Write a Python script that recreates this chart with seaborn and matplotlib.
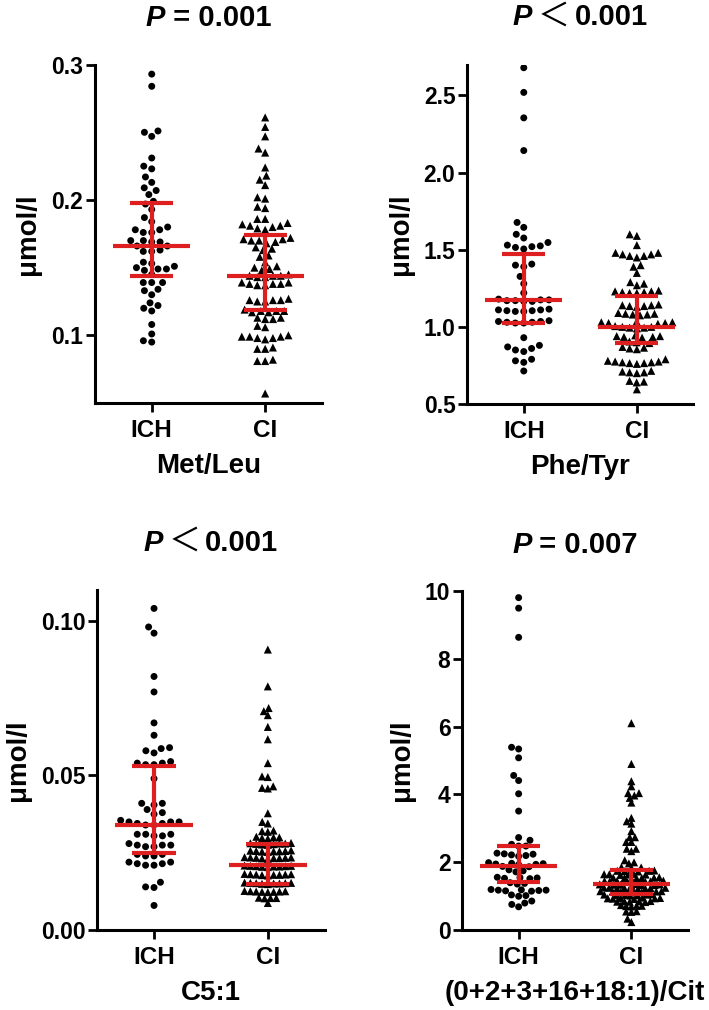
import matplotlib
matplotlib.use("Agg")
import matplotlib.pyplot as plt
from matplotlib.transforms import Affine2D
import seaborn as sns
import pandas as pd
from matplotlib.offsetbox import TextArea, HPacker, AnchoredOffsetbox

groups = ["ICH", "CI"]

# ---------------- data ----------------
metleu_ich = [0.293, 0.284, 0.251, 0.250, 0.247, 0.231, 0.225, 0.223, 0.217, 0.213,
              0.209, 0.207, 0.204, 0.199, 0.197, 0.193, 0.187, 0.184, 0.180, 0.178,
              0.178, 0.176, 0.176, 0.170, 0.170, 0.169, 0.169, 0.166, 0.166, 0.163,
              0.162, 0.162, 0.154, 0.153, 0.151, 0.150, 0.149, 0.149, 0.148, 0.145,
              0.139, 0.139, 0.139, 0.134, 0.133, 0.130, 0.124, 0.122, 0.120, 0.118,
              0.108, 0.101, 0.096, 0.095]
metleu_ci = [0.261, 0.254, 0.247, 0.238, 0.235, 0.224, 0.218, 0.215, 0.211, 0.202,
             0.201, 0.195, 0.194, 0.186, 0.186, 0.183, 0.182, 0.181, 0.181, 0.180,
             0.179, 0.178, 0.172, 0.171, 0.171, 0.170, 0.170, 0.169, 0.168, 0.165,
             0.164, 0.163, 0.159, 0.158, 0.154, 0.151, 0.150, 0.149, 0.148, 0.145,
             0.144, 0.144, 0.144, 0.143, 0.143, 0.139, 0.139, 0.138, 0.138, 0.138,
             0.137, 0.137, 0.127, 0.126, 0.126, 0.126, 0.125, 0.125, 0.119, 0.118,
             0.118, 0.118, 0.117, 0.117, 0.113, 0.113, 0.112, 0.112, 0.107, 0.106,
             0.100, 0.099, 0.099, 0.099, 0.098, 0.098, 0.097, 0.091, 0.090, 0.090,
             0.082, 0.081, 0.081, 0.057]

phetyr_ich = [2.68, 2.52, 2.355, 2.143, 1.677, 1.645, 1.600, 1.576, 1.547, 1.530,
              1.525, 1.520, 1.515, 1.505, 1.407, 1.400, 1.390, 1.327, 1.280, 1.220,
              1.180, 1.175, 1.175, 1.170, 1.170, 1.165, 1.165, 1.115, 1.110, 1.110,
              1.105, 1.105, 1.100, 1.100, 1.040, 1.035, 1.035, 1.030, 1.030, 1.025,
              1.025, 0.930, 0.880, 0.870, 0.860, 0.850, 0.840, 0.790, 0.780, 0.770,
              0.714]
phetyr_ci = [1.600, 1.590, 1.530, 1.480, 1.480, 1.470, 1.470, 1.460, 1.460, 1.450,
             1.400, 1.390, 1.350, 1.290, 1.280, 1.270, 1.235, 1.230, 1.230, 1.225,
             1.225, 1.220, 1.220, 1.145, 1.140, 1.140, 1.135, 1.135, 1.130, 1.090,
             1.085, 1.085, 1.080, 1.080, 1.075, 1.035, 1.030, 1.030, 1.025, 1.025,
             1.020, 1.005, 1.000, 1.000, 0.995, 0.995, 0.990, 0.945, 0.940, 0.940,
             0.935, 0.935, 0.930, 0.905, 0.900, 0.895, 0.870, 0.865, 0.860, 0.855,
             0.790, 0.780, 0.775, 0.775, 0.770, 0.770, 0.765, 0.765, 0.760, 0.715,
             0.710, 0.705, 0.705, 0.700, 0.650, 0.645, 0.640, 0.595]

c51_ich = [0.104, 0.098, 0.096, 0.082, 0.077, 0.067, 0.063, 0.059, 0.0587, 0.058,
           0.0573, 0.0545, 0.054, 0.054, 0.0535, 0.0535, 0.049, 0.041, 0.041, 0.0405,
           0.039, 0.038, 0.0375, 0.0355, 0.035, 0.035, 0.035, 0.0345, 0.0345, 0.034,
           0.034, 0.031, 0.031, 0.031, 0.0305, 0.0305, 0.028, 0.0275, 0.0275, 0.0275,
           0.027, 0.027, 0.0245, 0.0245, 0.024, 0.024, 0.022, 0.022, 0.0215, 0.0215,
           0.021, 0.021, 0.0155, 0.014, 0.0138, 0.008]
c51_ci = [0.0907, 0.0788, 0.0718, 0.0708, 0.0695, 0.0657, 0.0617, 0.054, 0.0497, 0.0495,
          0.0465, 0.046, 0.0458, 0.0378, 0.035, 0.0345, 0.0322, 0.032, 0.0318, 0.0302,
          0.030, 0.030, 0.0298, 0.0296, 0.0282, 0.0281, 0.028, 0.028, 0.0279, 0.0278,
          0.0277, 0.0276, 0.0258, 0.0257, 0.0256, 0.0256, 0.0255, 0.0255, 0.0254, 0.0253,
          0.0236, 0.0235, 0.0235, 0.0234, 0.0234, 0.0233, 0.0233, 0.0232, 0.0231, 0.0209,
          0.0208, 0.0208, 0.0207, 0.0207, 0.0206, 0.0206, 0.0205, 0.0204, 0.0182, 0.0181,
          0.0181, 0.018, 0.018, 0.0179, 0.0179, 0.0178, 0.0177, 0.0154, 0.0153, 0.0153,
          0.0152, 0.0152, 0.0151, 0.0151, 0.015, 0.0149, 0.0127, 0.0126, 0.0126, 0.0125,
          0.0125, 0.0124, 0.0124, 0.0123, 0.0105, 0.0104, 0.0104, 0.0103, 0.0088]

ratio_ich = [9.80, 9.49, 8.63, 5.39, 5.34, 5.08, 4.56, 4.41, 4.02, 3.51,
             2.73, 2.65, 2.53, 2.48, 2.48, 2.27, 2.25, 2.24, 2.22, 2.20,
             2.18, 1.99, 1.97, 1.96, 1.95, 1.94, 1.93, 1.88, 1.87, 1.78,
             1.75, 1.72, 1.56, 1.55, 1.54, 1.53, 1.52, 1.40, 1.38, 1.36,
             1.20, 1.19, 1.18, 1.18, 1.17, 1.16, 1.15, 1.04, 1.02, 1.00,
             0.86, 0.80, 0.76, 0.69]
ratio_ci = [6.10, 4.90, 4.39, 4.24, 4.04, 4.04, 3.97, 3.90, 3.76, 3.31,
            3.21, 3.14, 2.92, 2.74, 2.74, 2.60, 2.60, 2.40, 2.40, 2.33,
            2.06, 2.00, 1.97, 1.86, 1.85, 1.84, 1.76, 1.75, 1.75, 1.74,
            1.73, 1.66, 1.65, 1.65, 1.64, 1.64, 1.63, 1.56, 1.55, 1.55,
            1.54, 1.54, 1.53, 1.52, 1.46, 1.45, 1.45, 1.44, 1.44, 1.43,
            1.42, 1.36, 1.35, 1.35, 1.34, 1.34, 1.33, 1.33, 1.32, 1.26,
            1.25, 1.25, 1.24, 1.24, 1.23, 1.23, 1.22, 1.16, 1.15, 1.15,
            1.14, 1.14, 1.13, 1.13, 1.12, 1.06, 1.05, 1.05, 1.04, 1.04,
            1.03, 1.02, 0.96, 0.95, 0.95, 0.94, 0.94, 0.93, 0.92, 0.86,
            0.85, 0.85, 0.84, 0.84, 0.83, 0.74, 0.72, 0.72, 0.71, 0.70,
            0.56, 0.55, 0.54, 0.34, 0.24]

# [Q1, median, Q3]
metleu_stats = {"ICH": [0.144, 0.166, 0.198], "CI": [0.119, 0.144, 0.174]}
phetyr_stats = {"ICH": [1.026, 1.175, 1.47], "CI": [0.896, 1.00, 1.20]}
c51_stats = {"ICH": [0.025, 0.034, 0.053], "CI": [0.015, 0.021, 0.028]}
ratio_stats = {"ICH": [1.41, 1.88, 2.47], "CI": [1.06, 1.35, 1.76]}

titles_op = ["=", "<", "<", "="]
titles_p = ["0.001", "0.001", "0.001", "0.007"]
xlabels = ["Met/Leu", "Phe/Tyr", "C5:1", "(0+2+3+16+18:1)/Cit"]
ylabel = "μmol/l"

# ---------------- style ----------------
sns.set_theme(style="ticks")
plt.rcParams['font.family'] = ['Liberation Sans', 'Noto Sans CJK SC', 'DejaVu Sans']
plt.rcParams['font.weight'] = 'bold'
plt.rcParams['axes.labelweight'] = 'bold'

RED = "#dd1f1f"
fig = plt.figure(figsize=(7.09, 10.10), dpi=100)

# swarm spacing size (pt) per group; markers are then drawn at VISUAL size
panels = [
    dict(ich=metleu_ich, ci=metleu_ci, st=metleu_stats, ylim=(0.05, 0.30),
         ticks=[0.1, 0.2, 0.3], fmt="{:.1f}", rect=[0.134, 0.601, 0.320, 0.335],
         sw={"ICH": 5.8, "CI": 5.4}),
    dict(ich=phetyr_ich, ci=phetyr_ci, st=phetyr_stats, ylim=(0.5, 2.7),
         ticks=[0.5, 1.0, 1.5, 2.0, 2.5], fmt="{:.1f}", rect=[0.659, 0.600, 0.319, 0.336],
         sw={"ICH": 5.8, "CI": 5.0}),
    dict(ich=c51_ich, ci=c51_ci, st=c51_stats, ylim=(0.0, 0.11),
         ticks=[0.0, 0.05, 0.10], fmt="{:.2f}", rect=[0.137, 0.079, 0.321, 0.337],
         sw={"ICH": 5.8, "CI": 4.0}),
    dict(ich=ratio_ich, ci=ratio_ci, st=ratio_stats, ylim=(0, 10),
         ticks=[0, 2, 4, 6, 8, 10], fmt="{:d}", rect=[0.652, 0.079, 0.318, 0.336],
         sw={"ICH": 5.0, "CI": 3.6}),
]
VISUAL = {"ICH": 5.0, "CI": 5.8}
MARK = {"ICH": "o", "CI": "^"}


def add_title(ax, op, pval):
    fs = 21
    parts = [TextArea("P", textprops=dict(fontsize=fs, fontweight='bold',
                                           fontstyle='italic', color='black'))]
    if op == "=":
        parts.append(TextArea(" = " + pval, textprops=dict(fontsize=fs, fontweight='bold',
                                                            color='black')))
    else:
        parts.append(TextArea(" ", textprops=dict(fontsize=fs * 0.7)))
        parts.append(TextArea("＜", textprops=dict(fontsize=fs * 1.1, fontweight='normal',
                                                   family=['Noto Sans CJK SC'], color='black')))
        parts.append(TextArea(" ", textprops=dict(fontsize=fs * 0.6)))
        parts.append(TextArea(pval, textprops=dict(fontsize=fs, fontweight='bold',
                                                   color='black')))
    box = HPacker(children=parts, align='baseline', pad=0, sep=0)
    ab = AnchoredOffsetbox(loc='lower center', child=box, pad=0, borderpad=0,
                           frameon=False, bbox_to_anchor=(0.5, 1.095),
                           bbox_transform=ax.transAxes)
    ax.add_artist(ab)


for i, p in enumerate(panels):
    ax = fig.add_axes(p["rect"])
    df = pd.DataFrame({"group": ["ICH"] * len(p["ich"]) + ["CI"] * len(p["ci"]),
                       "value": list(p["ich"]) + list(p["ci"])})
    for g in groups:
        n_before = len(ax.collections)
        sns.swarmplot(data=df[df.group == g], x="group", y="value", order=groups,
                      marker=MARK[g], color="black", size=p["sw"][g], linewidth=0,
                      edgecolor="none", ax=ax, zorder=2, warn_thresh=1.0)
        k = VISUAL[g] / p["sw"][g]
        for coll in ax.collections[n_before:]:
            coll.set_paths([pt.transformed(Affine2D().scale(k)) for pt in coll.get_paths()])
    for xi, g in enumerate(groups):
        q1, med, q3 = p["st"][g]
        ax.hlines(med, xi - 0.34, xi + 0.34, color=RED, lw=3.0, zorder=5)
        ax.hlines([q1, q3], xi - 0.19, xi + 0.19, color=RED, lw=3.0, zorder=5)
        ax.vlines(xi, q1, q3, color=RED, lw=3.0, zorder=5)

    ax.set_xlim(-0.5, 1.5)
    ax.set_ylim(*p["ylim"])
    ax.set_yticks(p["ticks"])
    ax.set_yticklabels([p["fmt"].format(t) for t in p["ticks"]])
    ax.set_xticks([0, 1])
    ax.set_xticklabels(groups)
    for s in ["top", "right"]:
        ax.spines[s].set_visible(False)
    for s in ["left", "bottom"]:
        ax.spines[s].set_linewidth(2.2)
        ax.spines[s].set_color("black")
    ax.tick_params(axis="both", direction="out", length=6.5, width=2.0, colors="black")
    ax.tick_params(axis="y", pad=2, labelsize=16.5)
    ax.tick_params(axis="x", pad=5, labelsize=17.5)
    for lab in ax.get_xticklabels() + ax.get_yticklabels():
        lab.set_fontweight("bold")
    ax.set_xlabel(xlabels[i], fontsize=20, fontweight="bold", labelpad=8, color="black")
    ax.set_ylabel(ylabel, fontsize=20, fontweight="bold", labelpad=7, color="black")
    ax.set_facecolor("white")
    add_title(ax, titles_op[i], titles_p[i])

fig.savefig("out.png", dpi=100, facecolor="white")
